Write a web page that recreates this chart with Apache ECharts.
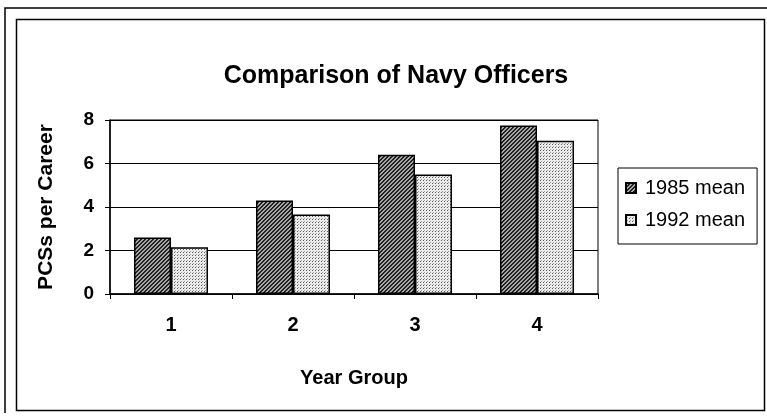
<!DOCTYPE html>
<html>
<head>
<meta charset="utf-8">
<script src="https://cdn.jsdelivr.net/npm/echarts@6/dist/echarts.min.js"></script>
<style>
  html, body { margin: 0; padding: 0; background: #fff; }
  #chart { width: 767px; height: 416px; }
</style>
</head>
<body>
<div id="chart"></div>
<script>
const yearGroups = ['1', '2', '3', '4']
const mean1985 = [2.6, 4.3, 6.4, 7.75]
const mean1992 = [2.15, 3.65, 5.5, 7.05]
const seriesNames = ['1985 mean', '1992 mean']

const FONT = '"Liberation Sans", Arial, sans-serif'

// dark diagonal hatch for 1985
const makeHatch = () => {
  const c = document.createElement('canvas')
  c.width = 4
  c.height = 4
  const ctx = c.getContext('2d')
  ctx.fillStyle = '#a8a8a8'
  ctx.fillRect(0, 0, 4, 4)
  ctx.fillStyle = '#202020'
  for (let i = 0; i < 4; i++) {
    ctx.fillRect(3 - i, i, 1, 1)
    ctx.fillRect((4 - i) % 4, i, 1, 1)
  }
  return c
}

// light dotted fill for 1992
const makeDots = () => {
  const c = document.createElement('canvas')
  c.width = 3
  c.height = 3
  const ctx = c.getContext('2d')
  ctx.fillStyle = '#ececec'
  ctx.fillRect(0, 0, 3, 3)
  ctx.fillStyle = '#5a5a5a'
  ctx.fillRect(0, 0, 1, 1)
  ctx.fillStyle = '#a0a0a0'
  ctx.fillRect(1, 2, 1, 1)
  return c
}

const hatch = { image: makeHatch(), repeat: 'repeat' }
const dots = { image: makeDots(), repeat: 'repeat' }

const chart = echarts.init(document.getElementById('chart'))

chart.setOption({
  animation: false,
  backgroundColor: '#fff',
  textStyle: { fontFamily: FONT, color: '#000' },
  title: {
    text: 'Comparison of Navy Officers',
    left: 391,
    textAlign: 'center',
    top: 59,
    textStyle: { fontFamily: FONT, fontSize: 25, fontWeight: 'bold', color: '#000' }
  },
  graphic: [
    {
      type: 'polyline',
      shape: { points: [[5, 413], [5, 8], [767, 8]] },
      style: { stroke: '#000', lineWidth: 1.5, fill: null }
    },
    {
      type: 'rect',
      shape: { x: 16.5, y: 19.5, width: 748, height: 391 },
      style: { stroke: '#000', lineWidth: 1.5, fill: null }
    }
  ],
  legend: {
    orient: 'vertical',
    left: 618,
    top: 168,
    padding: [10, 12, 14, 7],
    itemGap: 12,
    itemWidth: 10,
    itemHeight: 10,
    borderColor: '#000',
    borderWidth: 1,
    icon: 'rect',
    textStyle: { fontFamily: FONT, fontSize: 20, color: '#000', padding: [0, 0, 0, 4] },
    data: seriesNames
  },
  grid: {
    left: 110,
    right: 169,
    top: 120,
    bottom: 122,
    show: true,
    borderColor: '#000',
    borderWidth: 1
  },
  xAxis: {
    type: 'category',
    data: yearGroups,
    name: 'Year Group',
    nameLocation: 'middle',
    nameGap: 74,
    nameTextStyle: { fontFamily: FONT, fontSize: 20, fontWeight: 'bold', color: '#000' },
    axisLine: { lineStyle: { color: '#000', width: 1.5 } },
    axisTick: { show: true, length: 5, inside: false, lineStyle: { color: '#000' } },
    axisLabel: { margin: 21, fontFamily: FONT, fontSize: 20, fontWeight: 'bold', color: '#000' }
  },
  yAxis: {
    type: 'value',
    min: 0,
    max: 8,
    interval: 2,
    name: 'PCSs per Career',
    nameLocation: 'middle',
    nameGap: 53,
    nameTextStyle: { fontFamily: FONT, fontSize: 21, fontWeight: 'bold', color: '#000' },
    axisLine: { show: true, lineStyle: { color: '#000', width: 1.5 } },
    axisTick: { show: true, length: 5, lineStyle: { color: '#000' } },
    axisLabel: { margin: 16, fontFamily: FONT, fontSize: 19, fontWeight: 'bold', color: '#000' },
    splitLine: { show: true, lineStyle: { color: '#000', width: 1 } }
  },
  series: [
    {
      name: seriesNames[0],
      type: 'bar',
      data: mean1985,
      barWidth: 37,
      barGap: '0%',
      itemStyle: { color: hatch, borderColor: '#000', borderWidth: 1.5 }
    },
    {
      name: seriesNames[1],
      type: 'bar',
      data: mean1992,
      barWidth: 37,
      barGap: '0%',
      itemStyle: { color: dots, borderColor: '#000', borderWidth: 1.5 }
    }
  ]
})
</script>
</body>
</html>
